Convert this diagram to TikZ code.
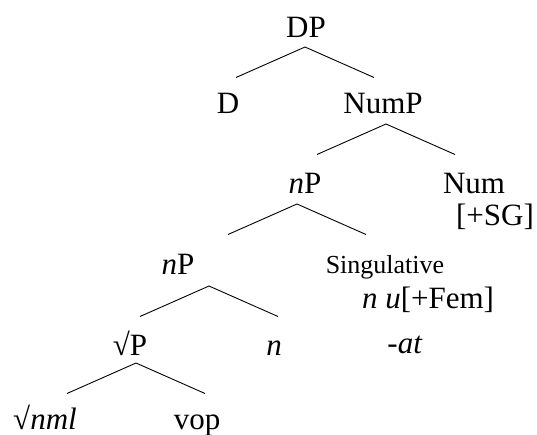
\documentclass[tikz,border=0pt]{standalone}
\usepackage{fontspec}
\setmainfont{Liberation Serif}
\usepackage{tikz}
\tikzset{
  cat/.style={anchor=base, inner sep=0pt, font=\fontsize{31}{36}\selectfont},
  smallcat/.style={anchor=base, inner sep=0pt, font=\fontsize{26}{30}\selectfont},
  branch/.style={line width=0.9pt, draw=black, line cap=butt},
}

\begin{document}
\begin{tikzpicture}[x=1pt,y=-1pt]
\useasboundingbox (0,0) rectangle (537,434);
% labels
\node[cat] (dp) at (306,37) {DP};
\node[cat] (d) at (228,113) {D};
\node[cat] (nump) at (383,113) {NumP};
\node[cat] (np) at (305,193) {\textit{n}P};
\node[cat] (num) at (474,193) {Num};
\node[cat] (sg) at (495,225) {[+SG]};
\node[cat] (nplow) at (178,274) {\textit{n}P};
\node[smallcat] (sing) at (385,273) {Singulative};
\node[cat] (nfem) at (428,308) {\textit{n u}[+Fem]};
\node[cat] (rootp) at (130,355) {√P};
\node[cat] (nhead) at (274,355) {\textit{n}};
\node[cat] (at) at (405,353) {\textit{-at}};
\node[cat] (root) at (45,429) {√\textit{nml}};
\node[cat] (vop) at (197,429) {vop};
% branches
\foreach \name/\x/\y in {dp-top/305/47, nump-top/386/124, np-top/297/204, nplow-top/209/286, rootp-top/136/363}{
  \coordinate (\name) at (\x,\y);
  \coordinate (\name-l) at (\x-69,\y+30.5);
  \coordinate (\name-r) at (\x+69,\y+30.5);
  \draw[branch] (\name-l) -- (\name) -- (\name-r);
}
\end{tikzpicture}
\end{document}
